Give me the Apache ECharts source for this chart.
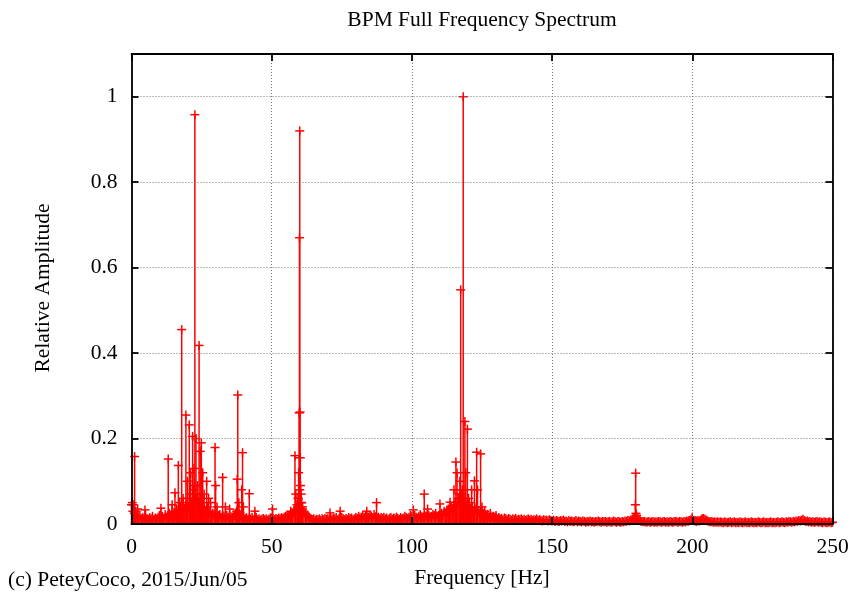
<!DOCTYPE html>
<html>
<head>
<meta charset="utf-8">
<script src="https://cdn.jsdelivr.net/npm/echarts@6/dist/echarts.min.js"></script>
<style>
html,body{margin:0;padding:0;background:#fff;}
#chart{width:854px;height:594px;}
</style>
</head>
<body>
<div id="chart"></div>
<script>
// ---- Data ----
const titleText = 'BPM Full Frequency Spectrum';
const xAxisName = 'Frequency [Hz]';
const yAxisName = 'Relative Amplitude';
const footerText = '(c) PeteyCoco, 2015/Jun/05';

const xTicks = [0, 50, 100, 150, 200, 250];
const yTicks = [0, 0.2, 0.4, 0.6, 0.8, 1];

// Noise floor: FFT bins every 0.5 Hz from 0 to 250 Hz
const noiseStartHz = 0;
const noiseStepHz = 0.5;
const noiseAmps = [
  // 0-10
  0.045,0.03,0.025,0.02,0.018,0.015,0.02,0.012,0.015,0.01,0.02,0.012,0.01,0.015,0.012,0.018,0.01,0.014,0.012,0.016,
  // 10-20
  0.02,0.015,0.018,0.012,0.022,0.015,0.02,0.025,0.018,0.03,0.022,0.02,0.035,0.025,0.03,0.04,0.03,0.05,0.035,0.045,
  // 20-30
  0.06,0.04,0.07,0.05,0.08,0.09,0.06,0.07,0.05,0.06,0.04,0.05,0.035,0.03,0.04,0.025,0.03,0.02,0.025,0.02,
  // 30-40
  0.025,0.018,0.02,0.022,0.015,0.02,0.018,0.012,0.02,0.015,0.018,0.012,0.015,0.02,0.025,0.03,0.02,0.025,0.02,0.015,
  // 40-50
  0.018,0.012,0.015,0.01,0.014,0.012,0.016,0.01,0.012,0.015,0.01,0.012,0.009,0.011,0.013,0.01,0.012,0.009,0.011,0.014,
  // 50-60
  0.015,0.012,0.01,0.013,0.011,0.014,0.012,0.015,0.013,0.016,0.018,0.015,0.02,0.018,0.022,0.025,0.03,0.035,0.045,0.06,
  // 60-70
  0.08,0.05,0.04,0.03,0.025,0.02,0.018,0.015,0.012,0.01,0.012,0.009,0.011,0.01,0.012,0.009,0.012,0.01,0.013,0.011,
  // 70-80
  0.012,0.01,0.014,0.011,0.013,0.012,0.015,0.01,0.012,0.014,0.016,0.012,0.01,0.013,0.011,0.015,0.012,0.014,0.01,0.012,
  // 80-90
  0.015,0.013,0.018,0.014,0.016,0.02,0.015,0.018,0.014,0.016,0.02,0.018,0.015,0.022,0.017,0.014,0.016,0.012,0.015,0.013,
  // 90-100
  0.016,0.012,0.014,0.01,0.013,0.015,0.011,0.014,0.012,0.016,0.013,0.011,0.015,0.012,0.014,0.018,0.015,0.013,0.016,0.02,
  // 100-110
  0.018,0.015,0.02,0.016,0.014,0.018,0.022,0.017,0.015,0.02,0.018,0.025,0.02,0.016,0.018,0.022,0.02,0.025,0.018,0.02,
  // 110-120
  0.022,0.025,0.02,0.03,0.025,0.028,0.035,0.03,0.04,0.035,0.045,0.05,0.04,0.06,0.07,0.05,0.08,0.06,0.05,0.045,
  // 120-130
  0.04,0.05,0.035,0.04,0.03,0.035,0.04,0.03,0.025,0.03,0.022,0.025,0.02,0.018,0.022,0.016,0.02,0.015,0.018,0.014,
  // 130-140
  0.016,0.012,0.015,0.011,0.013,0.01,0.014,0.012,0.01,0.013,0.011,0.009,0.012,0.01,0.013,0.009,0.011,0.01,0.012,0.009,
  // 140-150
  0.011,0.008,0.01,0.012,0.009,0.011,0.008,0.01,0.009,0.012,0.008,0.01,0.009,0.007,0.01,0.008,0.009,0.007,0.01,0.008,
  // 150-160
  0.007,0.009,0.006,0.008,0.007,0.006,0.008,0.007,0.009,0.006,0.007,0.005,0.008,0.006,0.007,0.005,0.006,0.008,0.005,0.007,
  // 160-170
  0.006,0.005,0.007,0.006,0.004,0.006,0.005,0.007,0.005,0.006,0.004,0.006,0.005,0.007,0.005,0.004,0.006,0.005,0.006,0.004,
  // 170-180
  0.005,0.006,0.004,0.005,0.007,0.005,0.004,0.006,0.005,0.004,0.006,0.005,0.007,0.006,0.008,0.007,0.009,0.01,0.012,0.015,
  // 180-190
  0.02,0.012,0.009,0.007,0.006,0.005,0.006,0.004,0.005,0.006,0.004,0.005,0.006,0.004,0.005,0.004,0.006,0.005,0.004,0.005,
  // 190-200
  0.006,0.004,0.005,0.004,0.006,0.005,0.004,0.005,0.006,0.005,0.004,0.006,0.005,0.004,0.006,0.005,0.007,0.006,0.008,0.01,
  // 200-210
  0.012,0.008,0.007,0.006,0.008,0.007,0.009,0.011,0.013,0.011,0.009,0.007,0.006,0.005,0.006,0.004,0.005,0.004,0.005,0.004,
  // 210-220
  0.005,0.004,0.003,0.005,0.004,0.003,0.004,0.005,0.003,0.004,0.005,0.003,0.004,0.003,0.005,0.004,0.003,0.004,0.005,0.003,
  // 220-230
  0.004,0.003,0.005,0.004,0.003,0.004,0.003,0.005,0.004,0.003,0.004,0.005,0.003,0.004,0.003,0.004,0.005,0.003,0.004,0.003,
  // 230-240
  0.004,0.005,0.003,0.004,0.005,0.004,0.003,0.005,0.004,0.006,0.005,0.004,0.006,0.005,0.007,0.006,0.008,0.007,0.009,0.011,
  // 240-250
  0.008,0.006,0.007,0.005,0.006,0.004,0.005,0.004,0.005,0.006,0.004,0.005,0.004,0.003,0.005,0.004,0.003,0.004,0.005,0.003,
  0.004
];

// Spectral peaks (frequency in Hz, relative amplitude)
const peakFreqs = [
  0.3, 0.6, 1.1, 1.5, 2.2, 4.8, 10.5,
  13.1, 14.5, 15.5, 16.7, 17.2, 17.9, 18.4, 19.4, 19.9, 20.6, 21.1, 21.8, 22.3, 22.6, 23.0, 23.5,
  24.1, 24.5, 24.9, 25.4, 25.9, 26.8, 27.5, 28.2, 29.8, 30.0, 30.5, 32.5, 33.5, 35.0,
  37.7, 37.9, 38.3, 39.3, 39.6, 39.9, 42.0, 44.0, 50.3, 55.5, 56.8,
  58.3, 58.6, 59.2, 59.4, 59.6, 59.8, 59.9, 60.0, 60.1, 60.2, 60.3, 60.5, 60.7, 61.0,
  70.8, 74.4, 83.9, 87.4, 100.5, 104.4, 105.6, 110.0, 112.5, 113.6, 115.0, 115.7, 116.1,
  117.1, 117.4, 117.7, 118.3, 118.5, 118.9, 119.2, 119.8, 120.2, 121.3, 122.3, 123.1, 123.4, 124.5,
  125.0, 126.0, 128.0, 130.0,
  179.7, 179.8, 179.9, 180.1, 200.0, 203.5
];
const peakAmps = [
  0.05, 0.045, 0.158, 0.03, 0.035, 0.033, 0.037,
  0.152, 0.045, 0.073, 0.137, 0.05, 0.455, 0.06, 0.255, 0.1, 0.232, 0.12, 0.205, 0.13, 0.958, 0.2, 0.09,
  0.418, 0.17, 0.19, 0.12, 0.07, 0.1, 0.06, 0.05, 0.179, 0.09, 0.04, 0.109, 0.04, 0.035,
  0.105, 0.302, 0.05, 0.08, 0.167, 0.04, 0.071, 0.03, 0.035, 0.02, 0.03,
  0.16, 0.07, 0.04, 0.06, 0.12, 0.26, 0.67, 0.92, 0.262, 0.155, 0.09, 0.07, 0.05, 0.035,
  0.026, 0.03, 0.03, 0.05, 0.033, 0.07, 0.035, 0.047, 0.033, 0.051, 0.08, 0.145, 0.12,
  0.1, 0.548, 0.07, 1.0, 0.05, 0.24, 0.12, 0.222, 0.06, 0.08, 0.101, 0.168, 0.08, 0.164,
  0.04, 0.03, 0.025, 0.02,
  0.045, 0.119, 0.025, 0.02, 0.016, 0.012
];

// ---- Build series data ----
const seriesData = [];
noiseAmps.forEach((a, i) => seriesData.push([noiseStartHz + i * noiseStepHz, a]));
peakFreqs.forEach((f, i) => seriesData.push([f, peakAmps[i]]));

const FONT = "'Liberation Serif', 'Times New Roman', serif";
const FS = 21.5;
const chart = echarts.init(document.getElementById('chart'), null, {renderer: 'canvas'});

const RED = '#ff0000';
function renderImpulse(params, api) {
  const f = api.value(0), a = api.value(1);
  const p0 = api.coord([f, 0]);
  const p1 = api.coord([f, a]);
  const h = 4.5;
  const st = {stroke: RED, lineWidth: 1.5};
  return {
    type: 'group',
    children: [
      {type: 'line', shape: {x1: p0[0], y1: p0[1], x2: p1[0], y2: p1[1]}, style: st},
      {type: 'line', shape: {x1: p1[0] - h, y1: p1[1], x2: p1[0] + h, y2: p1[1]}, style: st},
      {type: 'line', shape: {x1: p1[0], y1: p1[1] - h, x2: p1[0], y2: p1[1] + h}, style: st}
    ]
  };
}

const axisLineStyle = {color: '#000', width: 1.8};
const tickStyle = {color: '#000', width: 1.8};
const gridLineStyle = {color: '#777', width: 1, type: [1, 2]};

const option = {
  animation: false,
  backgroundColor: '#fff',
  grid: {left: 131.5, right: 21.5, top: 54, bottom: 70, containLabel: false},
  xAxis: [
    {
      type: 'value', position: 'bottom', min: xTicks[0], max: xTicks[xTicks.length - 1], interval: 50,
      z: 5,
      axisLine: {show: true, onZero: false, lineStyle: axisLineStyle},
      axisTick: {show: true, inside: true, length: 7, lineStyle: tickStyle},
      axisLabel: {show: true, margin: 12, color: '#000', fontFamily: FONT, fontSize: FS},
      splitLine: {show: true, lineStyle: gridLineStyle}
    },
    {
      type: 'value', position: 'top', min: xTicks[0], max: xTicks[xTicks.length - 1], interval: 50,
      z: 5,
      axisLine: {show: true, onZero: false, lineStyle: axisLineStyle},
      axisTick: {show: true, inside: true, length: 7, lineStyle: tickStyle},
      axisLabel: {show: false},
      splitLine: {show: false}
    }
  ],
  yAxis: [
    {
      type: 'value', position: 'left', min: 0, max: 1.1, interval: 0.2,
      z: 5,
      axisLine: {show: true, onZero: false, lineStyle: axisLineStyle},
      axisTick: {show: true, inside: true, length: 7, lineStyle: tickStyle},
      axisLabel: {
        show: true, margin: 14, color: '#000', fontFamily: FONT, fontSize: FS, showMaxLabel: false,
        formatter: v => (yTicks.some(t => Math.abs(t - v) < 1e-9) ? String(+v.toFixed(1)) : '')
      },
      splitLine: {show: true, lineStyle: gridLineStyle}
    },
    {
      type: 'value', position: 'right', min: 0, max: 1.1, interval: 0.2,
      z: 5,
      axisLine: {show: true, onZero: false, lineStyle: axisLineStyle},
      axisTick: {show: true, inside: true, length: 7, lineStyle: tickStyle},
      axisLabel: {show: false},
      splitLine: {show: false}
    }
  ],
  series: [
    {
      type: 'custom',
      xAxisIndex: 0, yAxisIndex: 0,
      z: 2,
      clip: false,
      renderItem: renderImpulse,
      encode: {x: 0, y: 1},
      data: seriesData
    }
  ],
  graphic: [
    {type: 'text', style: {text: titleText, x: 482, y: 20, align: 'center', verticalAlign: 'middle', fill: '#000', font: FS + 'px ' + FONT}},
    {type: 'text', style: {text: xAxisName, x: 482, y: 578, align: 'center', verticalAlign: 'middle', fill: '#000', font: FS + 'px ' + FONT}},
    {type: 'text', style: {text: footerText, x: 8, y: 580, align: 'left', verticalAlign: 'middle', fill: '#000', font: FS + 'px ' + FONT}},
    {type: 'text', x: 43, y: 288, rotation: Math.PI / 2, style: {text: yAxisName, x: 0, y: 0, align: 'center', verticalAlign: 'middle', fill: '#000', font: FS + 'px ' + FONT}}
  ]
};
chart.setOption(option);
</script>
</body>
</html>
